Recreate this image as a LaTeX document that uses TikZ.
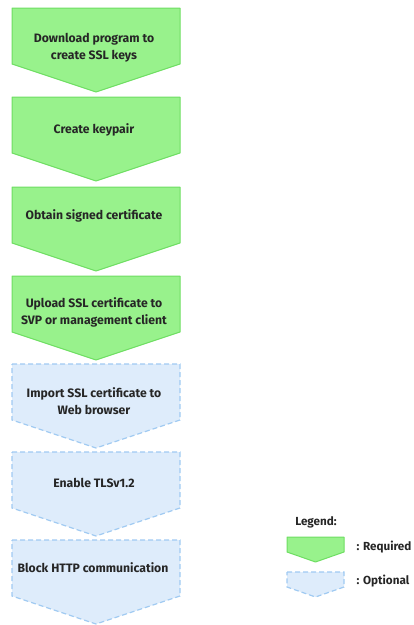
\documentclass[tikz,border=0pt]{standalone}
\usepackage{fontspec}
\setmainfont{Fira Sans}
\usepackage{xcolor}

\definecolor{reqfill}{RGB}{152,242,140}
\definecolor{reqline}{RGB}{110,222,98}
\definecolor{optfill}{RGB}{222,236,251}
\definecolor{optline}{RGB}{160,202,242}

\tikzset{
  required/.style={fill=reqfill, draw=reqline, line width=1pt, line join=round},
  optional/.style={fill=optfill, draw=optline, line width=1.2pt, dash pattern=on 5pt off 3pt},
  steptext/.style={font=\bfseries\fontsize{12.2}{17}\selectfont, text=black!85, align=center},
  legendtext/.style={font=\bfseries\fontsize{11.7}{14}\selectfont, text=black!85}
}

% chevron box: top y, style
\newcommand{\chevbox}[2]{%
  \path[#2] (12,#1) -- (180,#1) -- (180,#1+56) -- (96,#1+84) -- (12,#1+56) -- cycle;
}

\begin{document}
\begin{tikzpicture}[x=1pt, y=-1pt]
\useasboundingbox (0,0) rectangle (414,625);

% required steps
\chevbox{8}{required}
\chevbox{97}{required}
\chevbox{187}{required}
\chevbox{276}{required}
% optional steps
\chevbox{364}{optional}
\chevbox{452}{optional}
\chevbox{540}{optional}

\node[steptext] (download) at (94,48) {Download program to\\create SSL keys};
\node[steptext] (keypair) at (94,130) {Create keypair};
\node[steptext] (signed) at (94,216) {Obtain signed certificate};
\node[steptext] (upload) at (94,312) {Upload SSL certificate to\\SVP or management client};
\node[steptext] (import) at (94,401) {Import SSL certificate to\\Web browser};
\node[steptext] (tls) at (94,483) {Enable TLSv1.2};
\node[steptext] (block) at (93,568) {Block HTTP communication};

% legend
\node[legendtext] (legend) at (316,522) {Legend:};
\path[required] (287,537) -- (344,537) -- (344,552) -- (315.5,562) -- (287,552) -- cycle;
\path[optional] (287,572) -- (344,572) -- (344,587) -- (315.5,597) -- (287,587) -- cycle;
\node[legendtext, anchor=west] (req) at (353,547) {: Required};
\node[legendtext, anchor=west] (opt) at (353,581) {: Optional};
\end{tikzpicture}
\end{document}
